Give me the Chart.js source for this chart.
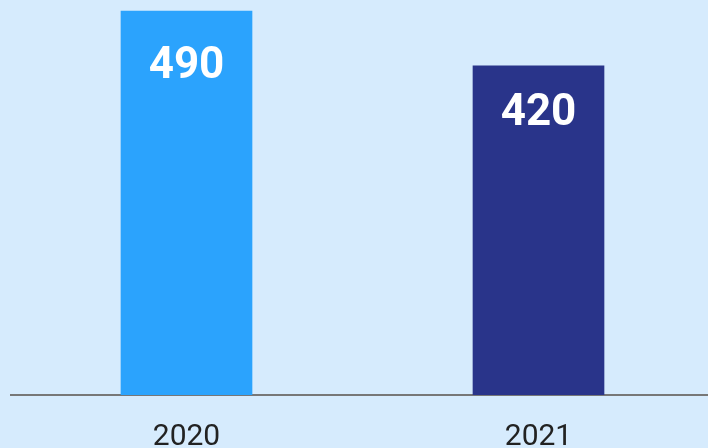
<!DOCTYPE html>
<html>
<head>
<meta charset="utf-8">
<script src="https://cdn.jsdelivr.net/npm/chart.js@4.4.1/dist/chart.umd.min.js"></script>
<style>
  html, body { margin:0; padding:0; background:#d6ebfd; overflow:hidden; }
  #wrap { width:720px; height:448px; }
</style>
</head>
<body>
<div id="wrap"><canvas id="c" width="720" height="448"></canvas></div>
<script>
const years = ["2020", "2021"];
const values = [490, 420];
const barColors = ["#2ba3fd", "#29348a"];

// etiquetas blancas dentro de cada barra
const insideLabels = {
  id: "insideLabels",
  afterDatasetsDraw(chart) {
    const { ctx, scales } = chart;
    const meta = chart.getDatasetMeta(0);
    ctx.save();
    ctx.fillStyle = "#ffffff";
    ctx.font = "bold 44px Roboto";
    ctx.textAlign = "center";
    ctx.textBaseline = "middle";
    meta.data.forEach((bar, i) => {
      const y = scales.y.getPixelForValue(values[i] * 0.853);
      ctx.fillText(String(values[i]), bar.x, y);
    });
    ctx.restore();
  }
};

Chart.defaults.font.family = "Roboto, sans-serif";

new Chart(document.getElementById("c"), {
  type: "bar",
  data: {
    labels: years,
    datasets: [{
      data: values,
      backgroundColor: barColors,
      barThickness: 131,
      borderWidth: 0
    }]
  },
  options: {
    responsive: false,
    animation: false,
    layout: { padding: { left: 10.5, right: 5.5, top: 0, bottom: 0 } },
    scales: {
      x: {
        grid: { display: false },
        border: { display: true, color: "#777777", width: 2 },
        ticks: { color: "#222222", font: { size: 30 }, padding: 16 },
        afterFit(scale) { scale.height = 53; }
      },
      y: { display: false, min: 0, max: 504 }
    },
    plugins: { legend: { display: false }, tooltip: { enabled: false } }
  },
  plugins: [insideLabels]
});
</script>
</body>
</html>
